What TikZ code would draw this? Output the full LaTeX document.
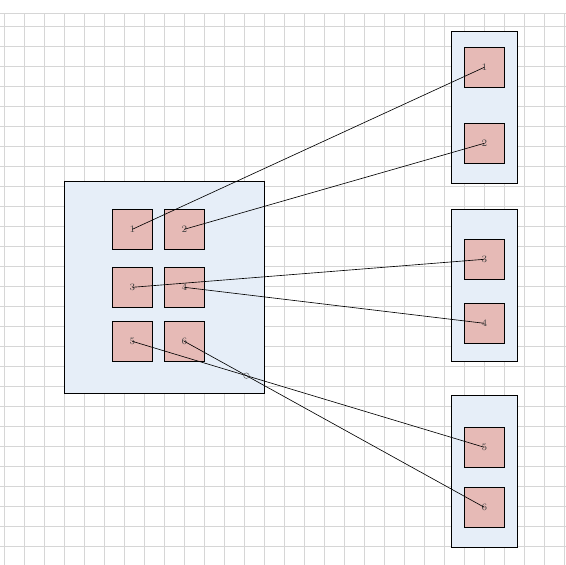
\documentclass[tikz,border=0pt]{standalone}
\usetikzlibrary{intersections}
\definecolor{boxblue}{RGB}{230,238,248}
\definecolor{boxpink}{RGB}{230,186,182}
\definecolor{gridgray}{RGB}{214,214,214}
\begin{document}
\begin{tikzpicture}[x=0.025cm,y=-0.025cm,
  gridline/.style={draw=gridgray,line width=0.4pt},
  outerbox/.style={draw=black,fill=boxblue,line width=0.5pt,inner sep=0pt},
  item/.style={draw=black,fill=boxpink,line width=0.5pt,minimum size=1cm,inner sep=0pt,font=\scriptsize,text=black!75},
  link/.style={draw=black,line width=0.45pt},
  marker/.style={draw=black!70,line width=0.3pt}]
\useasboundingbox (0,0) rectangle (566,565);
\fill[white] (0,0) rectangle (566,565);
% grid
\foreach \x in {4,24,...,564} \draw[gridline] (\x,13.3) -- (\x,565);
\foreach \y in {26.7,46.7,...,546.7} \draw[gridline] (0,\y) -- (566,\y);
\draw[gridline] (0,13.3) -- (566,13.3);
% containers
\node[outerbox,minimum width=5cm,minimum height=5.28cm] (L) at (164,287.4) {};
\node[outerbox,minimum width=1.64cm,minimum height=3.8cm] (R1) at (484.5,107.5) {};
\node[outerbox,minimum width=1.64cm,minimum height=3.8cm] (R2) at (484.5,285) {};
\node[outerbox,minimum width=1.64cm,minimum height=3.8cm] (R3) at (484.5,471) {};
% left items
\node[item] (a1) at (132.3,229.3) {1};
\node[item] (a2) at (184.3,229.3) {2};
\node[item] (a3) at (132.3,287.3) {3};
\node[item] (a4) at (184.3,287.3) {4};
\node[item] (a5) at (132.3,341.3) {5};
\node[item] (a6) at (184.3,341.3) {6};
% right items
\node[item] (b1) at (484.3,67.3) {1};
\node[item] (b2) at (484.3,143.3) {2};
\node[item] (b3) at (484.3,259.3) {3};
\node[item] (b4) at (484.3,323.3) {4};
\node[item] (b5) at (484.3,447.3) {5};
\node[item] (b6) at (484.3,507.3) {6};
% links
\draw[link] (a1.center) -- (b1.center);
\draw[link] (a2.center) -- (b2.center);
\draw[link] (a3.center) -- (b3.center);
\draw[link] (a4.center) -- (b4.center);
\draw[link,name path=l5] (a5.center) -- (b5.center);
\draw[link,name path=l6] (a6.center) -- (b6.center);
\path[name intersections={of=l5 and l6,by=x56}];
\draw[marker] (x56) circle[radius=0.07cm];
\end{tikzpicture}
\end{document}
